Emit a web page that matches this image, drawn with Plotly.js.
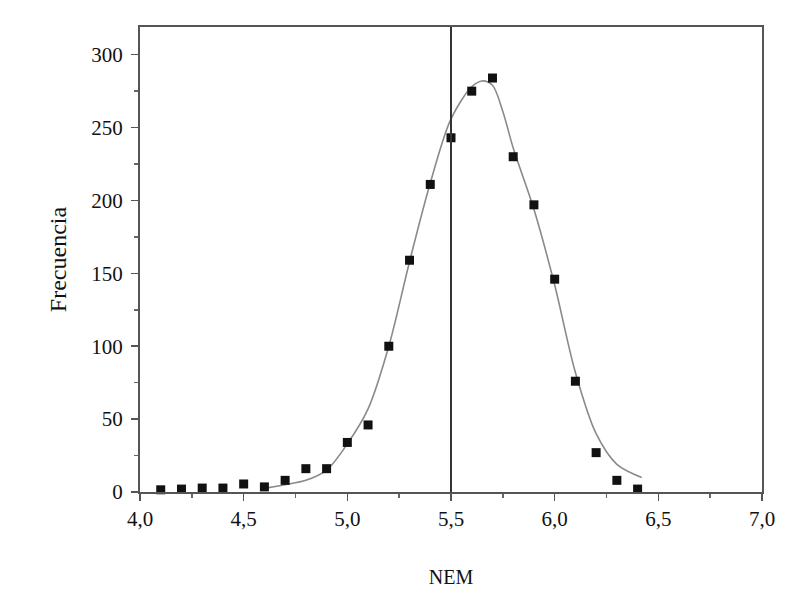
<!DOCTYPE html>
<html>
<head>
<meta charset="utf-8">
<script src="https://cdn.plot.ly/plotly-3.0.1.min.js"></script>
<style>html,body{margin:0;padding:0;background:#fff;}#chart{width:785px;height:610px;}</style>
</head>
<body>
<div id="chart"></div>
<script>
// Observed frequencies (squares)
const nemPoints = [4.1, 4.2, 4.3, 4.4, 4.5, 4.6, 4.7, 4.8, 4.9, 5.0, 5.1, 5.2, 5.3, 5.4, 5.5, 5.6, 5.7, 5.8, 5.9, 6.0, 6.1, 6.2, 6.3, 6.4];
const freqPoints = [1.5, 2, 2.7, 2.7, 5.5, 3.5, 8, 16, 16, 34, 46, 100, 159, 211, 243, 275, 284, 230, 197, 146, 76, 27, 8, 2];

// Fitted curve, values
const nemCurve = [4.62, 4.7, 4.8, 4.9, 5.0, 5.1, 5.2, 5.3, 5.4, 5.5, 5.6, 5.65, 5.7, 5.75, 5.8, 5.9, 6.0, 6.1, 6.2, 6.3, 6.42];
const freqCurve = [3, 5, 8, 15, 33, 57, 100, 158, 212, 256, 278, 282, 279, 261, 236, 194, 142, 82, 40, 19, 10];

const meanLine = 5.5;

const xTicks = [4.0, 4.5, 5.0, 5.5, 6.0, 6.5, 7.0];
const yTicks = [0, 50, 100, 150, 200, 250, 300];

const fontFam = "'Liberation Serif', 'Times New Roman', serif";

const traces = [
  {
    x: nemCurve, y: freqCurve, type: 'scatter', mode: 'lines',
    line: {color: '#8a8a8a', width: 1.6, shape: 'spline', smoothing: 0.9},
    hoverinfo: 'skip', showlegend: false
  },
  {
    x: nemPoints, y: freqPoints, type: 'scatter', mode: 'markers',
    marker: {symbol: 'square', size: 9, color: '#111'},
    showlegend: false, cliponaxis: false
  }
];

const layout = {
  width: 785, height: 610,
  margin: {l: 140, r: 23, t: 27, b: 118},
  paper_bgcolor: '#fff', plot_bgcolor: '#fff',
  separators: ',.',
  font: {family: fontFam, size: 21, color: '#111'},
  showlegend: false,
  xaxis: {
    range: [4.0, 7.0], tickvals: xTicks, tickformat: '.1f',
    ticks: 'outside', ticklen: 7, tickwidth: 1.5, tickcolor: '#555',
    showline: true, linecolor: '#555', linewidth: 2, mirror: true,
    showgrid: false, zeroline: false,
    minor: {dtick: 0.25, tick0: 4.0, ticks: 'outside', ticklen: 4, tickcolor: '#666', showgrid: false},
    title: {text: 'NEM', font: {family: fontFam, size: 20}, standoff: 40},
    automargin: false
  },
  yaxis: {
    range: [0, 319], tickvals: yTicks,
    ticks: 'outside', ticklen: 7, tickwidth: 1.5, tickcolor: '#555',
    showline: true, linecolor: '#555', linewidth: 2, mirror: true,
    showgrid: false, zeroline: false,
    minor: {dtick: 25, tick0: 0, ticks: 'outside', ticklen: 4, tickcolor: '#666', showgrid: false},
    ticklabelstandoff: 4,
    title: {text: 'Frecuencia', font: {family: fontFam, size: 24}, standoff: 18},
    automargin: false
  },
  shapes: [
    {type: 'line', xref: 'x', yref: 'paper', x0: meanLine, x1: meanLine, y0: 0, y1: 1,
     line: {color: '#333', width: 2}}
  ]
};

Plotly.newPlot('chart', traces, layout, {displayModeBar: false, staticPlot: true});
</script>
</body>
</html>
